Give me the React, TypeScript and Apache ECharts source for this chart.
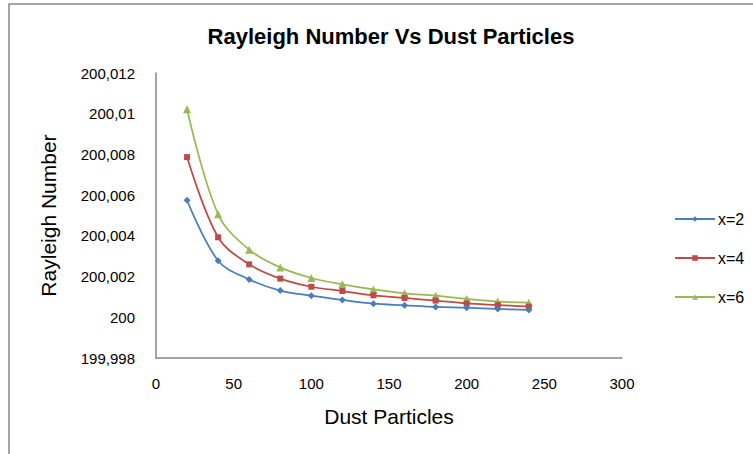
import React, { useEffect, useRef } from "react";
import * as echarts from "echarts";

const titleText = "Rayleigh Number Vs Dust Particles";
const xAxisName = "Dust Particles";
const yAxisName = "Rayleigh Number";

const dustParticles = [20, 40, 60, 80, 100, 120, 140, 160, 180, 200, 220, 240];
const seriesNames = ["x=2", "x=4", "x=6"];
const seriesX2 = [200.00575, 200.00278, 200.00186, 200.00131, 200.00106, 200.00085, 200.00067, 200.00059, 200.00051, 200.00047, 200.00041, 200.00036];
const seriesX4 = [200.00787, 200.00393, 200.0026, 200.0019, 200.0015, 200.00129, 200.00108, 200.00095, 200.00082, 200.00068, 200.0006, 200.00052];
const seriesX6 = [200.01022, 200.00506, 200.00332, 200.00245, 200.00193, 200.00162, 200.00137, 200.00118, 200.00106, 200.0009, 200.00077, 200.00072];

const yTickValues = [199.998, 200, 200.002, 200.004, 200.006, 200.008, 200.01, 200.012];
const yTickLabels = ["199,998", "200", "200,002", "200,004", "200,006", "200,008", "200,01", "200,012"];
const xTickLabels = ["0", "50", "100", "150", "200", "250", "300"];

const colors = ["#4A7EBB", "#BE4B48", "#98B954"];
const symbols = ["diamond", "rect", "triangle"];
const symbolSizes = [7, 6, 8];

const FONT = "'Liberation Sans', Arial, sans-serif";

export default function App() {
  const ref = useRef<HTMLDivElement>(null);
  useEffect(() => {
    if (!ref.current) return;
    const chart = echarts.init(ref.current, undefined, { renderer: "svg" });
    const allSeries = [seriesX2, seriesX4, seriesX6];
    chart.setOption({
      animation: false,
      backgroundColor: "#ffffff",
      textStyle: { fontFamily: FONT },
      title: {
        text: titleText,
        left: 386,
        top: 20,
        textAlign: "center",
        textStyle: { fontFamily: FONT, fontSize: 22, fontWeight: "bold", color: "#000" },
      },
      graphic: [
        {
          type: "rect",
          shape: { x: 9, y: 4, width: 900, height: 700 },
          style: { fill: "none", stroke: "#888888", lineWidth: 1.5 },
          silent: true,
        },
      ],
      legend: {
        orient: "vertical",
        left: 669,
        top: 206,
        itemWidth: 40,
        itemHeight: 7,
        itemGap: 23,
        textStyle: { fontFamily: FONT, fontSize: 16, color: "#000", padding: [0, 0, 0, -2] },
        data: seriesNames,
      },
      grid: { left: 156, top: 73, right: 131, bottom: 96, containLabel: false },
      xAxis: {
        type: "value",
        min: 0,
        max: 300,
        interval: 50,
        name: xAxisName,
        nameLocation: "middle",
        nameGap: 48,
        nameTextStyle: { fontFamily: FONT, fontSize: 21, color: "#000" },
        axisLine: { show: true, lineStyle: { color: "#868686", width: 1.5 } },
        axisTick: { show: false },
        splitLine: { show: false },
        axisLabel: {
          fontFamily: FONT,
          fontSize: 15,
          color: "#000",
          margin: 18,
          formatter: (v: number) => {
            const i = Math.round(v / 50);
            return xTickLabels[i] ?? String(v);
          },
        },
      },
      yAxis: {
        type: "value",
        min: 199.998,
        max: 200.012,
        interval: 0.002,
        name: yAxisName,
        nameLocation: "middle",
        nameGap: 97,
        nameTextStyle: { fontFamily: FONT, fontSize: 21, color: "#000" },
        axisLine: { show: true, lineStyle: { color: "#868686", width: 1.5 } },
        axisTick: { show: false },
        splitLine: { show: false },
        axisLabel: {
          fontFamily: FONT,
          fontSize: 15,
          color: "#000",
          margin: 21,
          formatter: (v: number) => {
            for (let i = 0; i < yTickValues.length; i++) {
              if (Math.abs(yTickValues[i] - v) < 1e-7) return yTickLabels[i];
            }
            return "";
          },
        },
      },
      series: allSeries.map((vals, k) => ({
        name: seriesNames[k],
        type: "line",
        smooth: 0.35,
        data: dustParticles.map((x, i) => [x, vals[i]]),
        symbol: symbols[k],
        symbolSize: symbolSizes[k],
        showAllSymbol: true,
        lineStyle: { color: colors[k], width: 1.75 },
        itemStyle: { color: colors[k] },
        z: 3 - k,
      })),
    });
    return () => chart.dispose();
  }, []);
  return (
    <div
      ref={ref}
      style={{ position: "fixed", left: 0, top: 0, width: 753, height: 454, background: "#fff" }}
    />
  );
}
